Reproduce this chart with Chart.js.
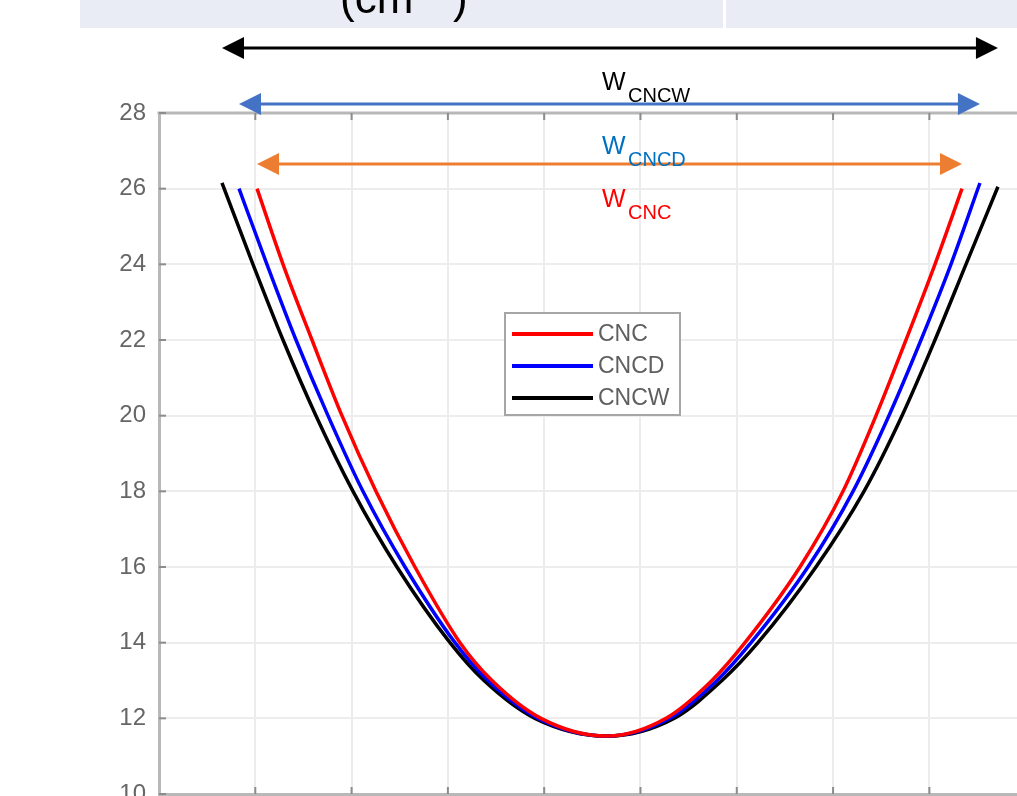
<!DOCTYPE html>
<html>
<head>
<meta charset="utf-8">
<script src="https://cdn.jsdelivr.net/npm/chart.js@4.4.1/dist/chart.umd.min.js"></script>
<style>
  html, body { margin: 0; padding: 0; background: #fff; }
  #wrap { width: 1017px; height: 796px; position: relative; }
</style>
</head>
<body>
<div id="wrap"><canvas id="chart" width="1017" height="796"></canvas></div>
<script>
/* ============================================================
   CNC / CNCD / CNCW curves
   ============================================================ */

// ── Data (x in grid units, one unit per vertical grid line) ──
const cncX  = [1.018, 1.288, 1.589, 1.900, 2.253, 2.658, 3.126, 3.458, 3.967, 4.652, 5.265, 5.742, 6.085, 6.656, 7.103, 7.446, 7.757, 8.058, 8.339];
const cncY  = [26.0,  24,    22,    20,    18,    16,    14,    13,    12,    11.53, 12,    13,    14,    16,    18,    20,    22,    24,    26.0];

const cncdX = [0.831, 1.121, 1.423, 1.755, 2.118, 2.555, 3.074, 3.416, 3.936, 4.652, 5.306, 5.794, 6.148, 6.739, 7.207, 7.580, 7.913, 8.224, 8.525];
const cncdY = [26.0,  24,    22,    20,    18,    16,    14,    13,    12,    11.53, 12,    13,    14,    16,    18,    20,    22,    24,    26.15];

const cncwX = [0.654, 0.976, 1.288, 1.630, 2.015, 2.471, 3.022, 3.375, 3.904, 4.652, 5.348, 5.846, 6.220, 6.822, 7.321, 7.716, 8.058, 8.380, 8.712];
const cncwY = [26.15, 24,    22,    20,    18,    16,    14,    13,    12,    11.53, 12,    13,    14,    16,    18,    20,    22,    24,    26.05];

const seriesNames  = ['CNC', 'CNCD', 'CNCW'];
const seriesColors = ['#ff0000', '#0000ff', '#000000'];
const yTicks = [10, 12, 14, 16, 18, 20, 22, 24, 26, 28];

const xMax = 8.91;

const toPoints = (xs, ys) => xs.map((x, i) => ({ x, y: ys[i] }));

// ── Width arrows above the plot (span = ends of each curve) ──
const widthArrows = [
  { src: 2, y: 48,  color: '#000000', label: 'CNCW', labelColor: '#000000', ly: 90  },
  { src: 1, y: 104, color: '#4472c4', label: 'CNCD', labelColor: '#0070c0', ly: 154 },
  { src: 0, y: 164, color: '#ed7d31', label: 'CNC',  labelColor: '#ff0000', ly: 207 },
];

function drawArrow(ctx, x1, x2, y, color) {
  const len = 22, half = 11;
  ctx.save();
  ctx.strokeStyle = color;
  ctx.fillStyle = color;
  ctx.lineWidth = 3;
  ctx.beginPath();
  ctx.moveTo(x1 + len - 2, y);
  ctx.lineTo(x2 - len + 2, y);
  ctx.stroke();
  ctx.beginPath();
  ctx.moveTo(x1, y); ctx.lineTo(x1 + len, y - half); ctx.lineTo(x1 + len, y + half); ctx.closePath();
  ctx.fill();
  ctx.beginPath();
  ctx.moveTo(x2, y); ctx.lineTo(x2 - len, y - half); ctx.lineTo(x2 - len, y + half); ctx.closePath();
  ctx.fill();
  ctx.restore();
}

const headerPlugin = {
  id: 'header',
  beforeDraw(chart) {
    const ctx = chart.ctx;
    ctx.save();
    ctx.fillStyle = '#e9ecf4';
    ctx.fillRect(80, 0, 937, 28);
    ctx.fillStyle = '#ffffff';
    ctx.fillRect(723, 0, 3, 28);
    ctx.fillStyle = '#000';
    ctx.textBaseline = 'alphabetic';
    ctx.font = '44px Arial, "Liberation Sans", sans-serif';
    ctx.fillText('(cm', 340, 13);
    ctx.font = '26px Arial, "Liberation Sans", sans-serif';
    ctx.fillText('\u22121', 414, -4);
    ctx.font = '44px Arial, "Liberation Sans", sans-serif';
    ctx.fillText(')', 453, 13);
    ctx.restore();
  },
};

const framePlugin = {
  id: 'frame',
  beforeDatasetsDraw(chart) {
    const { ctx, chartArea: a, scales } = chart;
    ctx.save();
    // top border
    ctx.strokeStyle = '#b8b8b8';
    ctx.lineWidth = 3;
    ctx.beginPath();
    ctx.moveTo(a.left - 1.5, a.top);
    ctx.lineTo(a.right, a.top);
    ctx.stroke();
    // inner tick marks
    ctx.strokeStyle = '#8c8c8c';
    ctx.lineWidth = 2;
    scales.x.ticks.forEach(t => {
      const px = scales.x.getPixelForValue(t.value);
      if (px <= a.left + 2) return;
      ctx.beginPath();
      ctx.moveTo(px, a.top); ctx.lineTo(px, a.top + 7);
      ctx.moveTo(px, a.bottom); ctx.lineTo(px, a.bottom - 7);
      ctx.stroke();
    });
    scales.y.ticks.forEach(t => {
      const py = scales.y.getPixelForValue(t.value);
      ctx.beginPath();
      ctx.moveTo(a.left, py); ctx.lineTo(a.left + 7, py);
      ctx.stroke();
    });
    ctx.restore();
  },
  afterDatasetsDraw(chart) {
    // legend box
    const ctx = chart.ctx;
    const bx = 505, by = 313, bw = 175, bh = 102;
    ctx.save();
    ctx.fillStyle = '#ffffff';
    ctx.fillRect(bx, by, bw, bh);
    ctx.strokeStyle = '#a6a6a6';
    ctx.lineWidth = 2;
    ctx.strokeRect(bx, by, bw, bh);
    ctx.font = '23px Arial, "Liberation Sans", sans-serif';
    ctx.textBaseline = 'middle';
    chart.data.datasets.forEach((ds, i) => {
      const ly = by + 21 + i * 32;
      ctx.strokeStyle = ds.borderColor;
      ctx.lineWidth = 4;
      ctx.beginPath();
      ctx.moveTo(bx + 7, ly); ctx.lineTo(bx + 88, ly);
      ctx.stroke();
      ctx.fillStyle = '#5f5f5f';
      ctx.fillText(ds.label, bx + 93, ly + 1);
    });
    ctx.restore();
  },
  afterDraw(chart) {
    const { ctx, scales } = chart;
    const sets = chart.data.datasets;
    widthArrows.forEach(w => {
      const d = sets[w.src].data;
      const x1 = scales.x.getPixelForValue(d[0].x);
      const x2 = scales.x.getPixelForValue(d[d.length - 1].x);
      drawArrow(ctx, x1, x2, w.y, w.color);
    });
    widthArrows.forEach(w => {
      ctx.save();
      ctx.fillStyle = w.labelColor;
      ctx.textBaseline = 'alphabetic';
      ctx.font = '25px Arial, "Liberation Sans", sans-serif';
      ctx.fillText('W', 602, w.ly);
      ctx.font = '20px Arial, "Liberation Sans", sans-serif';
      ctx.fillText(w.label, 628, w.ly + 12);
      ctx.restore();
    });
  },
};

new Chart(document.getElementById('chart'), {
  type: 'scatter',
  data: {
    datasets: [
      { label: seriesNames[0], data: toPoints(cncX, cncY) },
      { label: seriesNames[1], data: toPoints(cncdX, cncdY) },
      { label: seriesNames[2], data: toPoints(cncwX, cncwY) },
    ].map((ds, i) => ({
      ...ds,
      showLine: true,
      borderColor: seriesColors[i],
      backgroundColor: seriesColors[i],
      borderWidth: 3.5,
      pointRadius: 0,
      cubicInterpolationMode: 'monotone',
    })),
  },
  options: {
    responsive: false,
    animation: false,
    layout: { padding: { top: 113, left: 0, right: 0, bottom: 0 } },
    plugins: { legend: { display: false }, tooltip: { enabled: false } },
    scales: {
      x: {
        type: 'linear',
        min: 0, max: xMax,
        ticks: { display: false, stepSize: 1 },
        grid: { color: '#ececec', lineWidth: 2, drawTicks: false },
        border: { color: '#b8b8b8', width: 3 },
        afterBuildTicks: s => { s.ticks = s.ticks.filter(t => Number.isInteger(t.value)); },
        afterFit: s => { s.height = 2; s.paddingLeft = 0; s.paddingRight = 0; },
      },
      y: {
        min: yTicks[0], max: yTicks[yTicks.length - 1],
        afterBuildTicks: s => { s.ticks = yTicks.map(v => ({ value: v })); },
        ticks: {
          color: '#666666',
          padding: 13,
          font: { family: 'Arial, "Liberation Sans", sans-serif', size: 24 },
        },
        grid: { color: '#ededed', lineWidth: 2, drawTicks: false },
        border: { color: '#b8b8b8', width: 3 },
        afterFit: s => { s.width = 159; s.paddingTop = 0; s.paddingBottom = 0; },
      },
    },
  },
  plugins: [headerPlugin, framePlugin],
});
</script>
</body>
</html>
